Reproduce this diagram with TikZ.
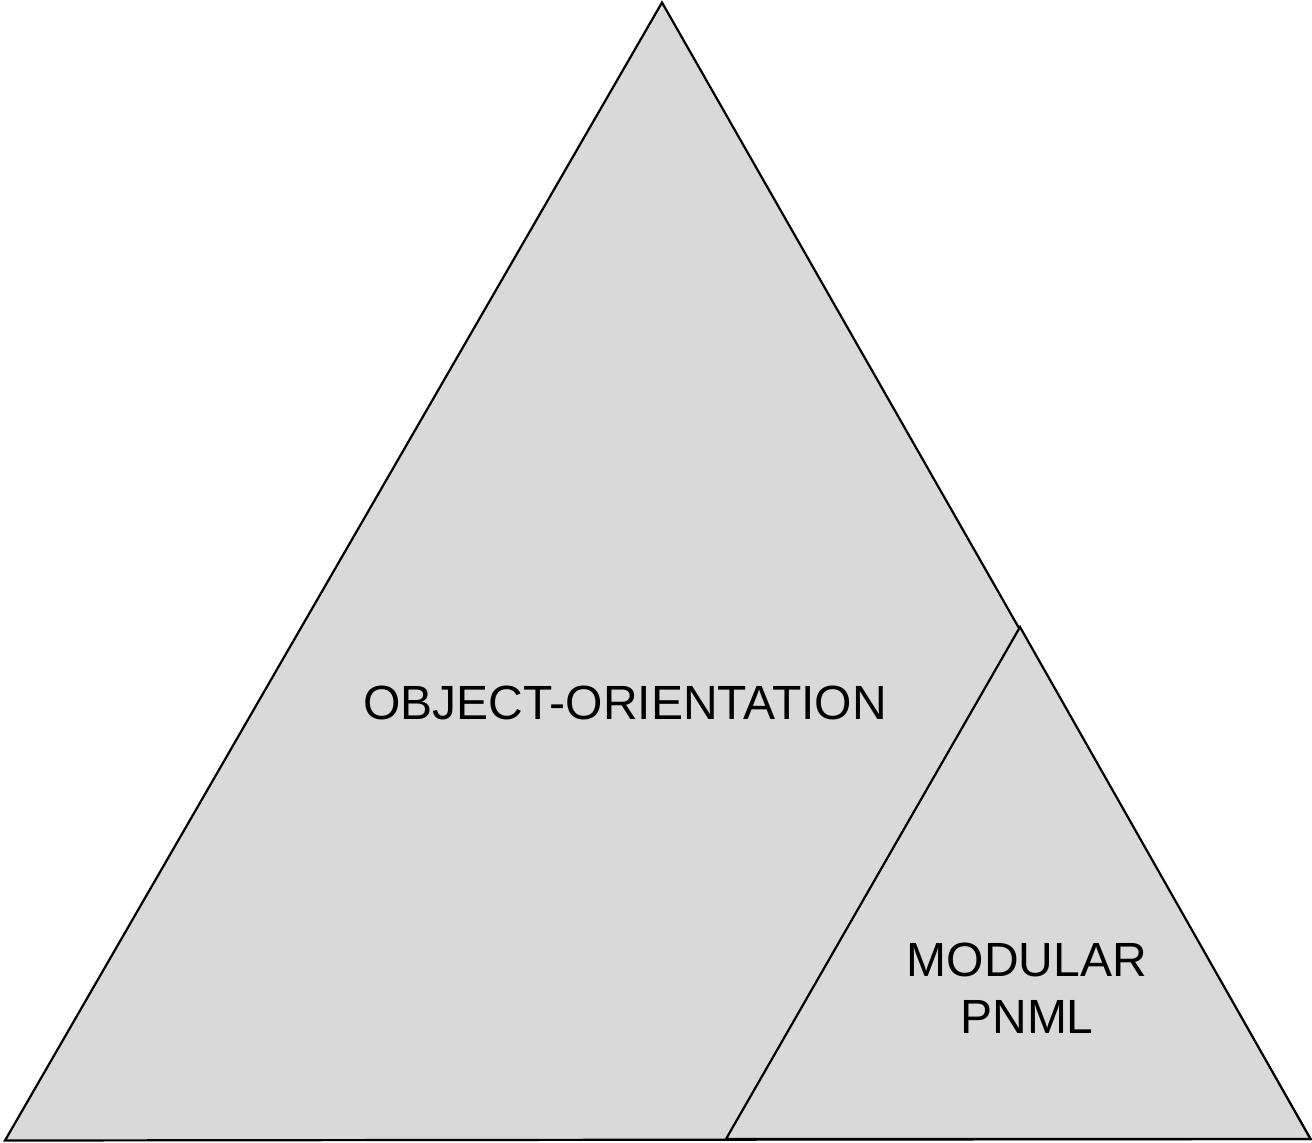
\documentclass[tikz,border=0pt]{standalone}
\usepackage{fontspec}
\setmainfont{Liberation Sans}
\definecolor{shapefill}{RGB}{217,217,217}
\begin{document}
\begin{tikzpicture}[x=1pt,y=-1pt,
  tri/.style={draw=black,fill=shapefill,line width=2.2pt,line join=miter},
  lbl/.style={inner sep=0pt,align=center,font=\fontsize{48}{57}\selectfont}]
\useasboundingbox (0,0) rectangle (1312,1143);
\coordinate (bigtop) at (662,2.5);
\coordinate (bigleft) at (5,1140.5);
\coordinate (bigright) at (1310.5,1139);
\coordinate (smalltop) at (1020,627);
\coordinate (smallleft) at (726,1139);
\draw[tri] (bigtop) -- (bigleft) -- (bigright) -- cycle;
\draw[tri] (smalltop) -- (smallleft) -- (bigright) -- cycle;
\node[lbl] (oo) at (625,703) {OBJECT-ORIENTATION};
\node[lbl] (mod) at (1027,988) {MODULAR\\PNML};
\end{tikzpicture}
\end{document}
